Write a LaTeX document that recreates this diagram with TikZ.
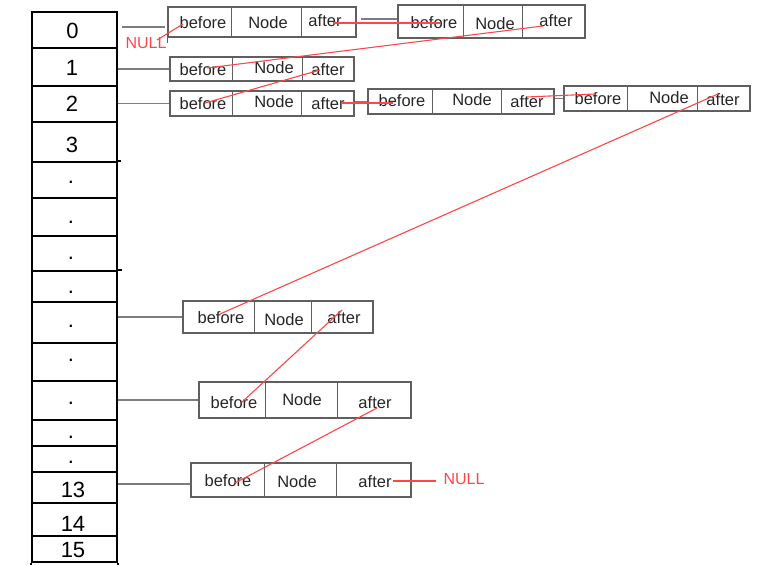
\documentclass[tikz,border=0pt]{standalone}
\usepackage{fontspec}
\setmainfont{Liberation Sans}
\definecolor{nred}{RGB}{255,70,70}
\definecolor{boxgray}{RGB}{95,95,95}
\definecolor{ptrgray}{RGB}{125,125,125}
\tikzset{
  colcell/.style={draw=black,line width=1.8pt,minimum width=85pt,inner sep=0pt,rectangle},
  collabel/.style={font=\fontsize{22}{22}\selectfont,inner sep=0pt},
  llbox/.style={draw=boxgray,line width=1.4pt,rectangle,inner sep=0pt},
  llline/.style={draw=boxgray,line width=1.4pt},
  lltext/.style={font=\fontsize{16.5}{16.5}\selectfont,inner sep=0pt,text=black!85},
  nulltext/.style={font=\fontsize{16}{16}\selectfont,inner sep=0pt,text=nred},
  ptr/.style={draw=ptrgray,line width=1.1pt},
  redln/.style={draw=nred,line width=1.1pt}
}
\newcommand\LLbox[7]{%
  \node[llbox,minimum width=#4pt,minimum height=#5pt] (#1) at (#2,#3) {};
  \draw[llline] ([xshift=#6pt]#1.north west) -- ([xshift=#6pt]#1.south west);
  \draw[llline] ([xshift=#7pt]#1.north west) -- ([xshift=#7pt]#1.south west);
}
\begin{document}
\begin{tikzpicture}[x=1pt,y=-1pt]
\useasboundingbox[fill=white] (0,0) rectangle (761,565);
% ---- hash table column ----
\node[colcell,minimum height=36pt] (c0) at (74.5,30) {};
\node[colcell,minimum height=38pt] (c1) at (74.5,67) {};
\node[colcell,minimum height=36pt] (c2) at (74.5,104) {};
\node[colcell,minimum height=40pt] (c3) at (74.5,142) {};
\node[colcell,minimum height=36pt] (c4) at (74.5,180) {};
\node[colcell,minimum height=38pt] (c5) at (74.5,217) {};
\node[colcell,minimum height=35pt] (c6) at (74.5,253.5) {};
\node[colcell,minimum height=31pt] (c7) at (74.5,286.5) {};
\node[colcell,minimum height=41pt] (c8) at (74.5,322.5) {};
\node[colcell,minimum height=38pt] (c9) at (74.5,362) {};
\node[colcell,minimum height=39pt] (c10) at (74.5,400.5) {};
\node[colcell,minimum height=26pt] (c11) at (74.5,433) {};
\node[colcell,minimum height=26pt] (c12) at (74.5,459) {};
\node[colcell,minimum height=31pt] (c13) at (74.5,487.5) {};
\node[colcell,minimum height=33pt] (c14) at (74.5,519.5) {};
\node[colcell,minimum height=26pt] (c15) at (74.5,549) {};
\draw[line width=1.8pt] (c15.south west) -- ++(0,6);
\draw[line width=1.8pt] (c15.south east) -- ++(0,6);
\draw[line width=1.8pt] (c4.north east) -- ++(3,0);
\draw[line width=1.8pt] (c7.north east) -- ++(4,0);
% labels
\node[collabel] (l0) at (72.5,31) {0};
\node[collabel] (l1) at (72,68) {1};
\node[collabel] (l2) at (72,104) {2};
\node[collabel] (l3) at (72,145) {3};
\node[collabel,anchor=base] (d4) at (71,183) {.};
\node[collabel,anchor=base] (d5) at (71,223) {.};
\node[collabel,anchor=base] (d6) at (71,259) {.};
\node[collabel,anchor=base] (d7) at (71,293) {.};
\node[collabel,anchor=base] (d8) at (71,327) {.};
\node[collabel,anchor=base] (d9) at (71,361) {.};
\node[collabel,anchor=base] (d10) at (71,404) {.};
\node[collabel,anchor=base] (d11) at (71,438) {.};
\node[collabel,anchor=base] (d12) at (71,463) {.};
\node[collabel] (l13) at (73,490) {13};
\node[collabel] (l14) at (73,524) {14};
\node[collabel] (l15) at (73,550) {15};
% ---- list nodes ----
\LLbox{r0a}{262}{22}{188}{30}{64}{134}
\LLbox{r0b}{491.5}{21.5}{187}{33}{66}{125}
\LLbox{r1}{262}{69}{184}{24}{63}{133}
\LLbox{r2a}{262}{103.5}{184}{25}{63}{132}
\LLbox{r2b}{461}{101.5}{186}{25}{65}{134}
\LLbox{r2c}{657}{98.5}{186}{25}{64}{134}
\LLbox{r8}{278}{317}{190}{32}{72}{129}
\LLbox{r10}{305}{400}{212}{36}{67}{139}
\LLbox{r13}{301}{480}{220}{34}{74}{146}
\draw[llline] (r0a.south west) -- ++(0,5);
% texts
\node[lltext] (r0ab) at (203,23) {before};
\node[lltext] (r0an) at (268,23) {Node};
\node[lltext] (r0aa) at (325,21) {after};
\node[lltext] (r0bb) at (434,23) {before};
\node[lltext] (r0bn) at (495,24) {Node};
\node[lltext] (r0ba) at (556,21) {after};
\node[lltext] (r1b) at (203,70) {before};
\node[lltext] (r1n) at (274,68) {Node};
\node[lltext] (r1a) at (328,70) {after};
\node[lltext] (r2ab) at (203,104) {before};
\node[lltext] (r2an) at (274,102) {Node};
\node[lltext] (r2aa) at (328,104) {after};
\node[lltext] (r2bb) at (402,101) {before};
\node[lltext] (r2bn) at (472,100) {Node};
\node[lltext] (r2ba) at (527,102) {after};
\node[lltext] (r2cb) at (598,99) {before};
\node[lltext] (r2cn) at (669,98) {Node};
\node[lltext] (r2ca) at (723,100) {after};
\node[lltext] (r8b) at (221,318) {before};
\node[lltext] (r8n) at (284,320) {Node};
\node[lltext] (r8a) at (344,318) {after};
\node[lltext] (r10b) at (234,403) {before};
\node[lltext] (r10n) at (302,400) {Node};
\node[lltext] (r10a) at (375,403) {after};
\node[lltext] (r13b) at (228,481) {before};
\node[lltext] (r13n) at (297,482) {Node};
\node[lltext] (r13a) at (375,482) {after};
\node[nulltext] (null0) at (146,43) {NULL};
\node[nulltext] (null13) at (464,479) {NULL};
% ---- gray pointers ----
\draw[ptr] ([xshift=4pt,yshift=3pt]c0.east) -- ([xshift=-2pt,yshift=-5pt]r0a.west);
\draw[ptr] (c1.east |- r1.west) -- (r1.west);
\draw[ptr] (c2.east |- r2a.west) -- (r2a.west);
\draw[ptr] (c8.east |- r8.west) -- (r8.west);
\draw[ptr] (c10.east |- r10.west) -- (r10.west);
\coordinate (p13) at ([yshift=-4pt]r13.west);
\draw[ptr] (c13.east |- p13) -- (p13);
\coordinate (p0b) at ([yshift=2.5pt]r0b.west);
\draw[ptr] ([xshift=4pt]r0a.east |- p0b) -- (p0b);
\draw[ptr] (r2a.east |- r2b.west) -- (r2b.west);
\draw[ptr] (r2b.east |- r2c.west) -- (r2c.west);
% ---- red links ----
\draw[redln] ([xshift=11pt,yshift=3pt]null0.center) -- ([xshift=-20pt,yshift=-1pt]r0ab.center);
\draw[redln] ([xshift=8pt,yshift=-2pt]r0aa.center) -- ([xshift=6pt]r0bb.center);
\draw[redln] ([xshift=-13pt,yshift=-5pt]r0ba.center) -- ([xshift=4pt,yshift=2pt]r1b.center);
\draw[redln] ([xshift=-8pt]r1a.center) -- ([xshift=2pt,yshift=1pt]r2ab.center);
\draw[redln] ([xshift=13pt,yshift=1pt]r2aa.center) -- ([xshift=-9pt,yshift=-2pt]r2bb.center);
\draw[redln] ([yshift=5pt]r2ba.center) -- ([xshift=-3pt,yshift=5pt]r2cb.center);
\draw[redln] ([xshift=-5pt,yshift=6pt]r2ca.center) -- ([xshift=-1pt,yshift=4pt]r8b.center);
\draw[redln] ([xshift=-2pt,yshift=8pt]r8a.center) -- ([xshift=8pt,yshift=1pt]r10b.center);
\draw[redln] ([xshift=2pt,yshift=-5pt]r10a.center) -- ([xshift=7pt,yshift=-2pt]r13b.center);
\draw[redln] ([xshift=18pt,yshift=1pt]r13a.center) -- ([xshift=-7pt,yshift=-2pt]null13.west);
\end{tikzpicture}
\end{document}
